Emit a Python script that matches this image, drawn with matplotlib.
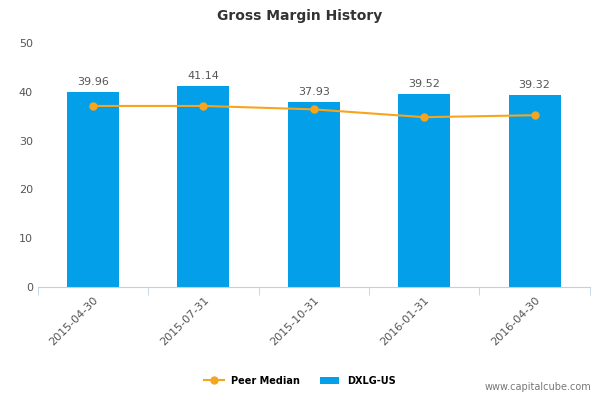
import matplotlib
matplotlib.use("Agg")
import matplotlib.pyplot as plt

categories = ["2015-04-30", "2015-07-31", "2015-10-31", "2016-01-31", "2016-04-30"]
dxlg = [39.96, 41.14, 37.93, 39.52, 39.32]
peer = [37.1, 37.1, 36.4, 34.8, 35.2]

fig = plt.figure(figsize=(6, 4), dpi=100)
ax = fig.add_axes([0.063, 0.2825, 0.92, 0.61])
x = list(range(len(categories)))
ax.bar(x, dxlg, width=0.47, color="#039fe8", label="DXLG-US", zorder=2)
ax.plot(x, peer, color="#f7a51e", marker="o", markersize=5, lw=1.5, label="Peer Median", zorder=3)
for i, v in zip(x, dxlg):
    ax.text(i, v + 1, f"{v:.2f}", ha="center", va="bottom", fontsize=8, color="#555555")
ax.set_xlim(-0.5, 4.5)
ax.set_ylim(0, 50)
ax.set_yticks([0, 10, 20, 30, 40, 50])
ax.set_xticks(x)
ax.set_xticklabels(categories, rotation=45, ha="right", rotation_mode="anchor", fontsize=8, color="#555555")
ax.set_xticks([i + 0.5 for i in range(-1, 5)], minor=True)
ax.tick_params(axis="x", which="major", length=0, pad=6)
ax.tick_params(axis="x", which="minor", length=6, color="#c0d0e0")
ax.tick_params(axis="y", length=0, labelsize=8, labelcolor="#555555")
for s in ["top", "right", "left"]:
    ax.spines[s].set_visible(False)
ax.spines["bottom"].set_color("#c0d0e0")
fig.text(0.5, 0.96, "Gross Margin History", ha="center", va="center", fontsize=10, fontweight="bold", color="#333333")
fig.legend(loc="center", bbox_to_anchor=(0.5, 0.048), ncol=2, frameon=False, fontsize=7,
           prop={"weight": "bold", "size": 7})
fig.text(0.985, 0.02, "www.capitalcube.com", ha="right", va="bottom", fontsize=7, color="#777777")
fig.savefig("out.png")
